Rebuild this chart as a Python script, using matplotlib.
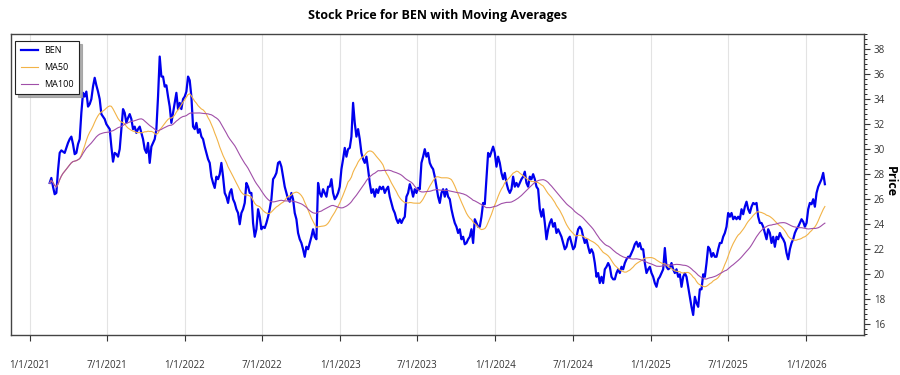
import matplotlib
matplotlib.use("Agg")
import matplotlib.pyplot as plt
from matplotlib.ticker import MultipleLocator, AutoMinorLocator
import pandas as pd

plt.rcParams['font.family'] = ['Open Sans', 'DejaVu Sans']

ticker_name = "BEN"
start_date = "2021-02-17"
end_date = "2026-02-14"

prices_2021 = [
    27.3, 27.7, 27.0, 26.4, 26.5, 28.3, 29.7, 29.9, 29.8, 29.7, 30.1, 30.5, 30.8, 31.0, 30.4, 29.6,
    29.7, 30.4, 30.8, 32.9, 34.5, 34.2, 34.6, 33.4, 33.6, 34.0, 35.0, 35.7, 35.1, 34.6, 34.0, 32.8,
    32.6, 32.4, 32.0, 31.8, 31.6, 30.2, 29.0, 29.7, 29.6, 29.4, 30.0, 31.6, 33.2, 32.9, 32.1, 32.5,
    32.8, 32.4, 31.6, 31.8, 31.3, 31.6, 31.8, 31.3, 30.8, 30.0, 29.7, 30.5, 28.9, 30.2, 30.5, 30.8,
    31.6, 34.2, 37.4, 35.8, 35.8, 35.0, 35.1, 34.2, 33.4, 32.1, 32.9, 33.7, 34.5, 33.2, 33.7, 33.2,
    34.0, 34.2, 34.6, 35.8,
]
prices_2022 = [
    35.5, 34.2, 31.8, 31.6, 32.1, 31.3, 31.6, 31.0, 30.8, 30.2, 29.7, 29.2, 28.9, 27.8, 27.3, 26.9,
    27.8, 27.6, 28.0, 28.9, 27.8, 26.5, 26.2, 25.7, 26.5, 26.8, 26.0, 25.7, 25.2, 24.9, 24.0, 24.9,
    25.2, 25.7, 27.3, 27.0, 26.5, 26.5, 24.1, 23.0, 23.6, 25.2, 24.6, 23.6, 23.8, 23.7, 24.1, 24.6,
    25.2, 26.0, 27.6, 27.8, 28.1, 28.9, 29.0, 28.6, 27.8, 27.0, 26.5, 26.0, 25.8, 26.5, 26.0, 24.9,
    24.4, 23.3, 22.8, 22.5, 22.0, 21.4, 22.2, 22.0, 22.5, 23.0, 23.6, 23.0, 22.8, 27.3, 26.5, 26.2,
    26.8, 26.5, 26.2, 27.0, 27.0, 27.6, 26.5, 26.0, 26.2, 26.5, 27.0, 28.4, 29.2, 30.1, 29.4, 30.0,
]
prices_2023 = [
    30.1, 31.0, 33.7, 32.1, 31.0, 31.6, 30.8, 29.7, 29.2, 28.9, 29.4, 28.4, 27.3, 26.5, 26.8, 26.2,
    26.8, 26.5, 27.0, 26.8, 27.0, 26.5, 26.8, 27.0, 26.2, 25.7, 25.2, 24.9, 24.4, 24.1, 24.4, 24.1,
    24.4, 24.6, 26.2, 26.5, 27.2, 26.8, 26.2, 26.8, 26.5, 26.9, 26.8, 28.9, 29.4, 30.0, 29.4, 29.7,
    28.9, 28.6, 28.4, 27.8, 27.0, 26.2, 25.7, 26.5, 26.8, 26.2, 26.8, 26.2, 26.0, 25.2, 24.6, 24.1,
    23.8, 23.3, 23.6, 22.8, 23.0, 22.4, 22.5, 22.8, 23.0, 23.6, 22.5, 24.4, 24.1, 23.8, 23.8, 24.6,
    25.7, 25.6, 27.6, 29.7, 29.4, 29.8, 30.2, 29.7, 28.6, 29.4, 28.9, 28.1, 27.6, 28.1, 27.3, 26.8,
]
prices_2024 = [
    26.5, 26.8, 27.8, 27.0, 27.3, 27.0, 27.3, 27.6, 27.8, 28.2, 27.3, 27.0, 27.8, 27.6, 28.0, 27.6,
    27.0, 26.8, 25.2, 24.6, 25.2, 24.1, 22.8, 23.6, 24.1, 24.4, 23.8, 24.1, 23.3, 23.6, 23.3, 23.0,
    22.5, 22.0, 22.2, 22.8, 23.0, 22.5, 22.0, 22.2, 23.0, 23.6, 23.8, 23.6, 23.0, 22.5, 22.8, 22.2,
    21.7, 22.0, 21.7, 20.9, 19.8, 20.1, 19.3, 19.8, 19.3, 20.4, 20.6, 20.9, 20.6, 19.8, 19.6, 19.6,
    20.1, 20.4, 20.1, 20.6, 20.4, 20.9, 21.2, 21.4, 21.4, 21.7, 22.0, 22.4, 22.6, 22.2, 22.5, 22.0,
    22.0, 20.9, 20.1, 20.4, 20.6, 20.1, 19.8, 19.3, 19.0, 19.6, 19.8, 20.1, 20.4, 22.1, 20.6, 20.4,
]
prices_2025 = [
    20.5, 20.9, 20.4, 20.1, 20.4, 19.8, 20.0, 19.0, 19.8, 20.1, 19.8, 19.0, 18.2, 17.4, 16.75, 18.2,
    17.7, 17.4, 18.8, 18.8, 20.0, 19.8, 20.9, 22.2, 22.0, 21.4, 21.7, 21.4, 21.4, 22.0, 22.5, 22.5,
    23.0, 23.3, 23.8, 24.9, 24.6, 24.9, 24.4, 24.6, 24.4, 24.6, 24.4, 25.2, 24.8, 25.4, 25.8, 25.2,
    24.9, 25.4, 25.7, 25.6, 25.7, 24.6, 24.1, 24.1, 23.8, 23.3, 22.8, 23.6, 23.3, 22.5, 23.0, 22.2,
    23.0, 22.8, 23.3, 23.0, 22.8, 22.5, 21.7, 21.2, 22.0, 22.5, 22.8, 23.3, 23.6, 23.8, 24.1, 24.4,
    24.2, 23.8, 24.1, 25.2, 25.7, 25.6, 26.0, 25.4, 26.5, 27.0, 27.3, 27.6, 28.1, 27.2,
]

prices = prices_2021 + prices_2022 + prices_2023 + prices_2024 + prices_2025
dates = pd.date_range(start_date, end_date, periods=len(prices))
close = pd.Series(prices, index=dates)
# 50 / 100 trading-day windows expressed as calendar spans
ma50 = close.rolling("73D", min_periods=1).mean()
ma100 = close.rolling("145D", min_periods=1).mean()

tick_dates = pd.date_range("2021-01-01", "2026-01-01", freq="6MS")

fig = plt.figure(figsize=(9, 3.75), dpi=100)
ax = fig.add_axes([0.0122, 0.1067, 0.9478, 0.8026])

ax.plot(close.index, close.values, color="#0000EE", lw=1.6, label=ticker_name, zorder=3)
ax.plot(ma50.index, ma50.values, color="#F2B347", lw=0.8, label="MA50", zorder=4)
ax.plot(ma100.index, ma100.values, color="#A04FA8", lw=0.8, label="MA100", zorder=4)

ax.set_xlim(pd.Timestamp("2020-11-18"), pd.Timestamp("2026-05-17"))
ax.set_ylim(15.15, 39.2)

ax.set_xticks(tick_dates)
ax.set_xticklabels([f"{d.month}/{d.day}/{d.year}" for d in tick_dates])
ax.xaxis.grid(True, color="#E3E3E3", lw=0.8)
ax.yaxis.grid(False)
ax.tick_params(axis="x", direction="out", length=4, width=0.8, pad=14, labelsize=7, colors="#333333")

ax.yaxis.tick_right()
ax.yaxis.set_label_position("right")
ax.yaxis.set_major_locator(MultipleLocator(2))
ax.yaxis.set_minor_locator(AutoMinorLocator(5))
ax.tick_params(axis="y", which="major", direction="out", length=4, width=0.8, pad=3, labelsize=7, colors="#333333")
ax.tick_params(axis="y", which="minor", direction="out", length=2, width=0.6)
ax.set_ylabel("Price", rotation=270, fontsize=9, fontweight="bold")
ax.yaxis.label.set_va("center")
ax.yaxis.label.set_ha("center")
ax.yaxis.set_label_coords(1.0305, 0.51)

for s in ax.spines.values():
    s.set_color("#444444")
    s.set_linewidth(1.0)

ax.set_title("Stock Price for BEN with Moving Averages", fontsize=9, fontweight="bold", pad=11)

leg = ax.legend(loc="upper left", fontsize=6.5, fancybox=False,
                shadow={"color": "#9a9a9a", "alpha": 0.8},
                edgecolor="#222222", framealpha=1, borderpad=0.6, handlelength=1.9,
                handletextpad=0.7, labelspacing=0.85, bbox_to_anchor=(0.0, 0.992))
leg.get_frame().set_linewidth(0.8)

fig.savefig("out.png", dpi=100)
